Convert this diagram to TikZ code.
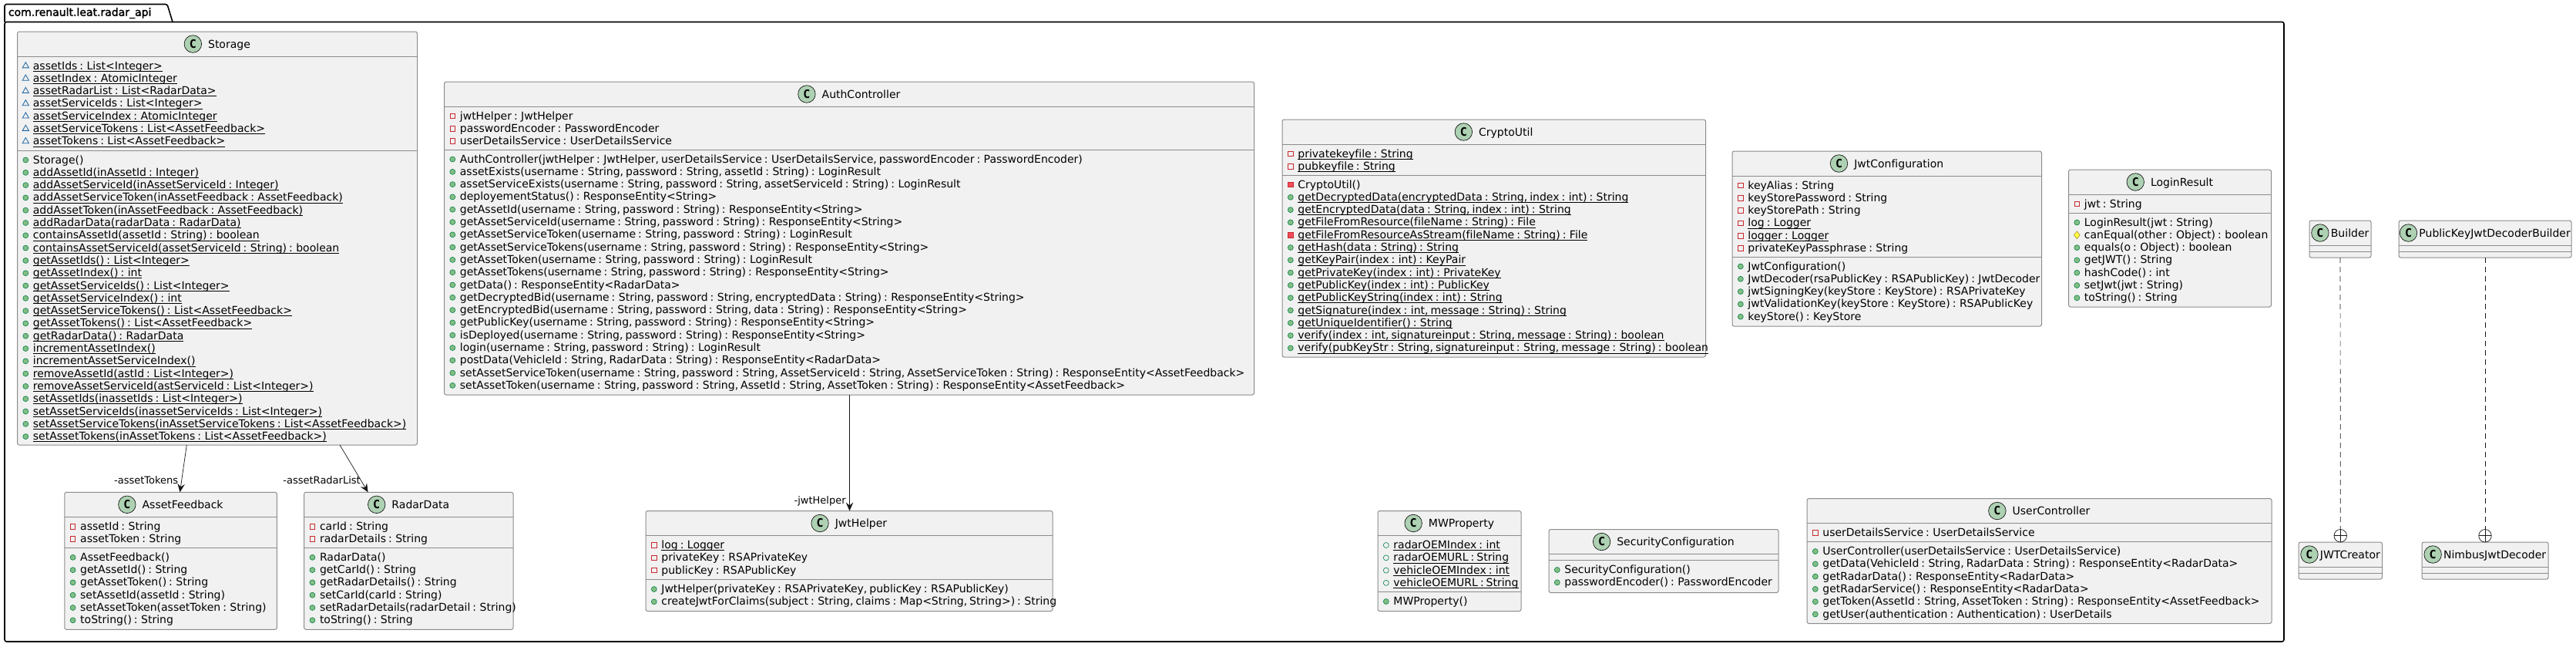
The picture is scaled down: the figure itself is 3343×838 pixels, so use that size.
\documentclass[tikz,border=0pt]{standalone}
\usepackage{fontspec}
\setmainfont[Ligatures=NoCommon]{DejaVu Sans}
\setmonofont{DejaVu Sans Mono}
\newfontfamily\pkgfont[FakeBold=2,Ligatures=NoCommon]{DejaVu Sans}
\usepackage{tikz}
\usetikzlibrary{arrows.meta, positioning, shapes.geometric}

\definecolor{boxfill}{HTML}{F1F1F1}
\definecolor{boxline}{HTML}{8C8C8C}
\definecolor{iconfill}{HTML}{ADD1B2}
\definecolor{inkline}{HTML}{181818}
\definecolor{publine}{HTML}{038048}
\definecolor{pubfill}{HTML}{84BE84}
\definecolor{privline}{HTML}{C82930}
\definecolor{privfill}{HTML}{F24D5C}
\definecolor{pkgline}{HTML}{1963A0}
\definecolor{protline}{HTML}{B38D22}
\definecolor{protfill}{HTML}{FFFF44}

\newcommand{\stat}[1]{\setbox0\hbox{#1}\rlap{\rule[-2.6pt]{\wd0}{0.9pt}}\box0}

\newcommand{\classbox}[8][8.5]{
  \node[classbox, minimum width=#5, minimum height=#6] (#2) at (#3,#4) {};
  \node[classtitle] (#2-title) at ([shift={({(22.5+#1)/2},16)}]#2.north) {#2};
  \node[classicon, left=#1pt of #2-title] (#2-icon) {C};
  \draw[classline] ([yshift=-#7pt]#2.north west) -- ([yshift=-#7pt]#2.north east);
  \draw[classline] ([yshift=-#8pt]#2.north west) -- ([yshift=-#8pt]#2.north east);
}

\newcommand{\members}[3]{
  \foreach[count=\i from 0] \vis/\txt in {#3} {
    \node[vis\vis] (#1-#2-v\i) at ([shift={(10.8,{#2+12.5+16.3*\i})}]#1.north west) {};
    \node[member] (#1-#2-t\i) at ([shift={(20.4,{#2+17+16.3*\i})}]#1.north west) {\spaceskip=3pt\relax\txt};
  }
}

\begin{document}
\begin{tikzpicture}[
  x=1pt, y=-1pt,
  classbox/.style={draw=boxline, fill=boxfill, line width=1pt, rounded corners=2.5pt, anchor=north west, inner sep=0pt, outer sep=0pt},
  classline/.style={draw=boxline, line width=1pt},
  classtitle/.style={inner sep=0pt, outer sep=0pt, text height=10pt, text depth=0pt, font=\fontsize{14}{16}\selectfont},
  classicon/.style={circle, draw=inkline, fill=iconfill, line width=0.7pt, minimum size=22.5pt, inner sep=0pt, outer sep=0pt, font=\fontsize{15}{16}\selectfont\ttfamily\bfseries},
  member/.style={anchor=base west, inner sep=0pt, outer sep=0pt, font=\fontsize{14}{16}\selectfont},
  vispub/.style={circle, draw=publine, fill=pubfill, line width=0.6pt, minimum size=7pt, inner sep=0pt},
  vispubf/.style={circle, draw=publine, line width=0.6pt, minimum size=7pt, inner sep=0pt},
  vispriv/.style={rectangle, draw=privline, line width=0.8pt, minimum size=6.5pt, inner sep=0pt},
  visprivm/.style={rectangle, draw=privline, fill=privfill, line width=0.8pt, minimum size=6.5pt, inner sep=0pt},
  vispkg/.style={regular polygon, regular polygon sides=3, draw=pkgline, line width=0.8pt, minimum size=9.5pt, inner sep=0pt},
  visprot/.style={diamond, draw=protline, fill=protfill, line width=0.6pt, minimum width=8pt, minimum height=10pt, inner sep=0pt},
  assoc/.style={-{Stealth[length=11pt, width=9.5pt, inset=4pt]}, draw=inkline, line width=0.7pt},
  rolelabel/.style={inner sep=0pt, text height=10pt, text depth=0pt, font=\fontsize{13}{15}\selectfont},
  nested/.style={dashed, dash pattern=on 7pt off 5pt, draw=inkline, line width=0.7pt},
  nestmark/.style={circle, draw=inkline, fill=white, line width=0.7pt, minimum size=16.5pt, inner sep=0pt, outer sep=0pt,
    path picture={
      \draw[inkline, line width=0.7pt] (path picture bounding box.north) -- (path picture bounding box.south);
      \draw[inkline, line width=0.7pt] (path picture bounding box.west) -- (path picture bounding box.east);
    }}
]
\useasboundingbox (0,0) rectangle (3343,838);

\draw[line width=1.6pt, black, rounded corners=2.5pt] (6,28.5) -- (6,5.5) -- (217,5.5) -- (224,28.5);
\draw[line width=1.6pt, black, rounded corners=2.5pt] (6,28.5) rectangle (2964,832);
\node[anchor=base west, inner sep=0pt, font=\fontsize{14}{16}\selectfont\pkgfont] (pkg-title) at (10.7,20.7) {com.renault.leat.radar\_api};

\classbox{Storage}{22.5}{41}{519}{536}{32}{154}
\members{Storage}{32}{
  pkg/\stat{assetIds : List<Integer>},
  pkg/\stat{assetIndex : AtomicInteger},
  pkg/\stat{assetRadarList : List<RadarData>},
  pkg/\stat{assetServiceIds : List<Integer>},
  pkg/\stat{assetServiceIndex : AtomicInteger},
  pkg/\stat{assetServiceTokens : List<AssetFeedback>},
  pkg/\stat{assetTokens : List<AssetFeedback>}}
\members{Storage}{154}{
  pub/Storage(),
  pub/\stat{addAssetId(inAssetId : Integer)},
  pub/\stat{addAssetServiceId(inAssetServiceId : Integer)},
  pub/\stat{addAssetServiceToken(inAssetFeedback : AssetFeedback)},
  pub/\stat{addAssetToken(inAssetFeedback : AssetFeedback)},
  pub/\stat{addRadarData(radarData : RadarData)},
  pub/\stat{containsAssetId(assetId : String) : boolean},
  pub/\stat{containsAssetServiceId(assetServiceId : String) : boolean},
  pub/\stat{getAssetIds() : List<Integer>},
  pub/\stat{getAssetIndex() : int},
  pub/\stat{getAssetServiceIds() : List<Integer>},
  pub/\stat{getAssetServiceIndex() : int},
  pub/\stat{getAssetServiceTokens() : List<AssetFeedback>},
  pub/\stat{getAssetTokens() : List<AssetFeedback>},
  pub/\stat{getRadarData() : RadarData},
  pub/\stat{incrementAssetIndex()},
  pub/\stat{incrementAssetServiceIndex()},
  pub/\stat{removeAssetId(astId : List<Integer>)},
  pub/\stat{removeAssetServiceId(astServiceId : List<Integer>)},
  pub/\stat{setAssetIds(inassetIds : List<Integer>)},
  pub/\stat{setAssetServiceIds(inassetServiceIds : List<Integer>)},
  pub/\stat{setAssetServiceTokens(inAssetServiceTokens : List<AssetFeedback>)},
  pub/\stat{setAssetTokens(inAssetTokens : List<AssetFeedback>)}}

\classbox{AssetFeedback}{83.8}{638.3}{275.6}{178}{32}{72}
\members{AssetFeedback}{32}{
  priv/assetId : String,
  priv/assetToken : String}
\members{AssetFeedback}{72}{
  pub/AssetFeedback(),
  pub/getAssetId() : String,
  pub/getAssetToken() : String,
  pub/setAssetId(assetId : String),
  pub/setAssetToken(assetToken : String),
  pub/toString() : String}

\classbox{RadarData}{394.6}{638.3}{271.4}{178}{32}{72}
\members{RadarData}{32}{
  priv/carId : String,
  priv/radarDetails : String}
\members{RadarData}{72}{
  pub/RadarData(),
  pub/getCarId() : String,
  pub/getRadarDetails() : String,
  pub/setCarId(carId : String),
  pub/setRadarDetails(radarDetail : String),
  pub/toString() : String}

\classbox{AuthController}{576.5}{106}{1051}{406}{32}{88}
\members{AuthController}{32}{
  priv/jwtHelper : JwtHelper,
  priv/passwordEncoder : PasswordEncoder,
  priv/userDetailsService : UserDetailsService}
\members{AuthController}{88}{
  pub/{AuthController(jwtHelper : JwtHelper, userDetailsService : UserDetailsService, passwordEncoder : PasswordEncoder)},
  pub/{assetExists(username : String, password : String, assetId : String) : LoginResult},
  pub/{assetServiceExists(username : String, password : String, assetServiceId : String) : LoginResult},
  pub/deployementStatus() : ResponseEntity<String>,
  pub/{getAssetId(username : String, password : String) : ResponseEntity<String>},
  pub/{getAssetServiceId(username : String, password : String) : ResponseEntity<String>},
  pub/{getAssetServiceToken(username : String, password : String) : LoginResult},
  pub/{getAssetServiceTokens(username : String, password : String) : ResponseEntity<String>},
  pub/{getAssetToken(username : String, password : String) : LoginResult},
  pub/{getAssetTokens(username : String, password : String) : ResponseEntity<String>},
  pub/getData() : ResponseEntity<RadarData>,
  pub/{getDecryptedBid(username : String, password : String, encryptedData : String) : ResponseEntity<String>},
  pub/{getEncryptedBid(username : String, password : String, data : String) : ResponseEntity<String>},
  pub/{getPublicKey(username : String, password : String) : ResponseEntity<String>},
  pub/{isDeployed(username : String, password : String) : ResponseEntity<String>},
  pub/{login(username : String, password : String) : LoginResult},
  pub/{postData(VehicleId : String, RadarData : String) : ResponseEntity<RadarData>},
  pub/{setAssetServiceToken(username : String, password : String, AssetServiceId : String, AssetServiceToken : String) : ResponseEntity<AssetFeedback>},
  pub/{setAssetToken(username : String, password : String, AssetId : String, AssetToken : String) : ResponseEntity<AssetFeedback>}}

\classbox{CryptoUtil}{1664}{155}{549.5}{308}{32}{72}
\members{CryptoUtil}{32}{
  priv/\stat{privatekeyfile : String},
  priv/\stat{pubkeyfile : String}}
\members{CryptoUtil}{72}{
  privm/CryptoUtil(),
  pub/\stat{getDecryptedData(encryptedData : String, index : int) : String},
  pub/\stat{getEncryptedData(data : String, index : int) : String},
  pub/\stat{getFileFromResource(fileName : String) : File},
  privm/\stat{getFileFromResourceAsStream(fileName : String) : File},
  pub/\stat{getHash(data : String) : String},
  pub/\stat{getKeyPair(index : int) : KeyPair},
  pub/\stat{getPrivateKey(index : int) : PrivateKey},
  pub/\stat{getPublicKey(index : int) : PublicKey},
  pub/\stat{getPublicKeyString(index : int) : String},
  pub/\stat{getSignature(index : int, message : String) : String},
  pub/\stat{getUniqueIdentifier() : String},
  pub/\stat{verify(index : int, signatureinput : String, message : String) : boolean},
  pub/\stat{verify(pubKeyStr : String, signatureinput : String, message : String) : boolean}}

\classbox{JwtConfiguration}{2248}{196}{401.5}{227}{32}{137}
\members{JwtConfiguration}{32}{
  priv/keyAlias : String,
  priv/keyStorePassword : String,
  priv/keyStorePath : String,
  priv/\stat{log : Logger},
  priv/\stat{logger : Logger},
  priv/privateKeyPassphrase : String}
\members{JwtConfiguration}{137}{
  pub/JwtConfiguration(),
  pub/JwtDecoder(rsaPublicKey : RSAPublicKey) : JwtDecoder,
  pub/jwtSigningKey(keyStore : KeyStore) : RSAPrivateKey,
  pub/jwtValidationKey(keyStore : KeyStore) : RSAPublicKey,
  pub/keyStore() : KeyStore}

\classbox{LoginResult}{2684.5}{220}{263}{178}{32}{56}
\members{LoginResult}{32}{
  priv/jwt : String}
\members{LoginResult}{56}{
  pub/LoginResult(jwt : String),
  prot/canEqual(other : Object) : boolean,
  pub/equals(o : Object) : boolean,
  pub/getJWT() : String,
  pub/hashCode() : int,
  pub/setJwt(jwt : String),
  pub/toString() : String}

\classbox{JwtHelper}{838}{662.5}{528}{130}{32}{89}
\members{JwtHelper}{32}{
  priv/\stat{log : Logger},
  priv/privateKey : RSAPrivateKey,
  priv/publicKey : RSAPublicKey}
\members{JwtHelper}{89}{
  pub/{JwtHelper(privateKey : RSAPrivateKey, publicKey : RSAPublicKey)},
  pub/{createJwtForClaims(subject : String, claims : Map<String, String>) : String}}

\classbox{MWProperty}{1788}{662.5}{186}{130}{32}{105}
\members{MWProperty}{32}{
  pubf/\stat{radarOEMIndex : int},
  pubf/\stat{radarOEMURL : String},
  pubf/\stat{vehicleOEMIndex : int},
  pubf/\stat{vehicleOEMURL : String}}
\members{MWProperty}{105}{
  pub/MWProperty()}

\classbox{SecurityConfiguration}{2010}{686.5}{298}{82}{32}{40}
\members{SecurityConfiguration}{40}{
  pub/SecurityConfiguration(),
  pub/passwordEncoder() : PasswordEncoder}

\classbox{UserController}{2345}{646.5}{603}{162}{32}{56}
\members{UserController}{32}{
  priv/userDetailsService : UserDetailsService}
\members{UserController}{56}{
  pub/UserController(userDetailsService : UserDetailsService),
  pub/{getData(VehicleId : String, RadarData : String) : ResponseEntity<RadarData>},
  pub/getRadarData() : ResponseEntity<RadarData>,
  pub/getRadarService() : ResponseEntity<RadarData>,
  pub/{getToken(AssetId : String, AssetToken : String) : ResponseEntity<AssetFeedback>},
  pub/getUser(authentication : Authentication) : UserDetails}

\classbox[2.7]{Builder}{2997}{286}{80}{48}{32}{40}
\classbox[2.7]{PublicKeyJwtDecoderBuilder}{3113}{286}{224}{48}{32}{40}
\classbox[2.7]{JWTCreator}{2983}{703}{108.5}{48}{32}{40}
\classbox[2.7]{NimbusJwtDecoder}{3143}{703}{164}{48}{32}{40}

\draw[assoc] ([xshift=219.8pt]Storage.south west) -- node[rolelabel, pos=0.75, anchor=east, xshift=-4.2pt]{-assetTokens} ([xshift=149.7pt]AssetFeedback.north west);
\draw[assoc] ([xshift=418.5pt]Storage.south west) -- node[rolelabel, pos=0.74, anchor=east]{-assetRadarList} ([xshift=83pt]RadarData.north west);
\draw[assoc] ([xshift=526pt]AuthController.south west) -- node[rolelabel, pos=0.905, anchor=east, xshift=-4.5pt]{-jwtHelper} ([xshift=264.5pt]JwtHelper.north west);

\node[nestmark, above=0pt of JWTCreator] (creator-mark) {};
\node[nestmark, above=0pt of NimbusJwtDecoder] (decoder-mark) {};
\draw[nested] (Builder) -- (creator-mark);
\draw[nested] (PublicKeyJwtDecoderBuilder) -- (decoder-mark);
\end{tikzpicture}
\end{document}
